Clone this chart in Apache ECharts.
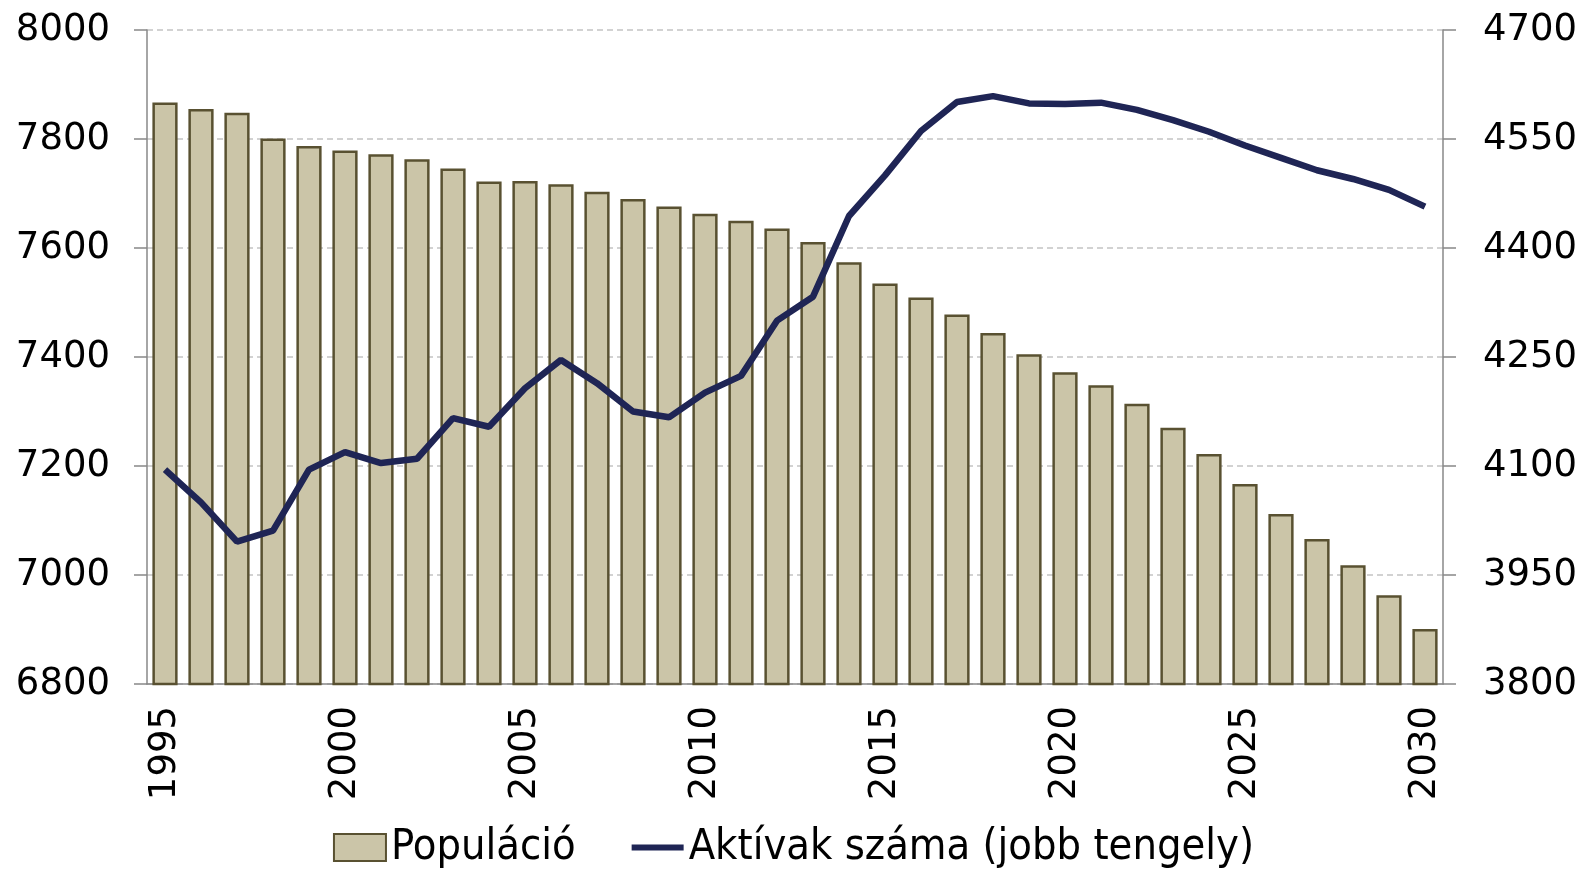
<!DOCTYPE HTML>
<html lang="hu">
<head>
<meta charset="utf-8">
<title>Populáció és aktívak száma</title>
<style>
html, body {
  margin: 0;
  background: #fff;
}
#chart {
  width: 1587px;
  height: 872px;
}
</style>
</head>
<body>
<div id="chart"></div>
<script src="https://cdn.jsdelivr.net/npm/echarts@6.0.0/dist/echarts.min.js"></script>
<script>
var years = [
  '1995', '1996', '1997', '1998', '1999', '2000', '2001', '2002', '2003', '2004',
  '2005', '2006', '2007', '2008', '2009', '2010', '2011', '2012', '2013', '2014',
  '2015', '2016', '2017', '2018', '2019', '2020', '2021', '2022', '2023', '2024',
  '2025', '2026', '2027', '2028', '2029', '2030'
];
// Populáció (bal tengely)
var population = [
  7867, 7855, 7848, 7801, 7787, 7779, 7772, 7763, 7746, 7722,
  7723, 7717, 7703, 7690, 7676, 7663, 7650, 7636, 7611, 7574,
  7535, 7509, 7478, 7444, 7405, 7372, 7348, 7314, 7270, 7222,
  7167, 7112, 7066, 7018, 6963, 6901
];
// Aktívak száma (jobb tengely)
var active = [
  4095, 4050, 3996, 4011, 4095, 4119, 4104, 4110, 4166, 4154,
  4207, 4246, 4214, 4175, 4167, 4201, 4224, 4300, 4333, 4444,
  4500, 4561, 4601, 4609, 4599, 4598, 4600, 4590, 4576, 4560,
  4541, 4524, 4507, 4495, 4480, 4457
];

var axisColor = '#888888';
var labelFont = {
  color: '#000',
  fontFamily: 'DejaVu Sans',
  fontSize: 37
};
function plain(v) {
  return String(v);
}

var chart = echarts.init(document.getElementById('chart'));
chart.setOption({
  animation: false,
  grid: {
    left: 147,
    right: 144,
    top: 30,
    bottom: 188
  },
  legend: {
    bottom: -2,
    left: 'center',
    itemWidth: 52,
    itemHeight: 27,
    itemGap: 56,
    textStyle: {
      color: '#000',
      fontFamily: 'DejaVu Sans Condensed',
      fontSize: 43
    },
    data: [
      { name: 'Populáció', icon: 'rect' },
      // thin bar drawn as the line's legend mark
      { name: 'Aktívak száma (jobb tengely)', icon: 'path://M0,0 L52,0 L52,6 L0,6 Z' }
    ]
  },
  xAxis: {
    type: 'category',
    data: years,
    axisLine: { lineStyle: { color: axisColor, width: 1.5 } },
    axisTick: {
      interval: 0,
      length: 13,
      lineStyle: { color: axisColor, width: 1.5 }
    },
    axisLabel: Object.assign({
      interval: 4,
      rotate: 90,
      margin: 22
    }, labelFont)
  },
  yAxis: [
    {
      type: 'value',
      min: 6800,
      max: 8000,
      interval: 200,
      axisLine: { show: true, lineStyle: { color: axisColor, width: 1.5 } },
      axisTick: { show: true, length: 13, lineStyle: { color: axisColor, width: 1.5 } },
      axisLabel: Object.assign({ margin: 37, formatter: plain }, labelFont),
      splitLine: {
        lineStyle: { color: '#c4c4c4', type: [6, 4], width: 1.5 }
      }
    },
    {
      type: 'value',
      min: 3800,
      max: 4700,
      interval: 150,
      axisLine: { show: true, lineStyle: { color: axisColor, width: 1.5 } },
      axisTick: { show: true, length: 13, lineStyle: { color: axisColor, width: 1.5 } },
      axisLabel: Object.assign({ margin: 40, formatter: plain }, labelFont),
      splitLine: { show: false }
    }
  ],
  series: [
    {
      name: 'Populáció',
      type: 'bar',
      data: population,
      barCategoryGap: '30%',
      itemStyle: {
        color: '#cbc5a8',
        borderColor: '#595131',
        borderWidth: 2.5
      }
    },
    {
      name: 'Aktívak száma (jobb tengely)',
      type: 'line',
      yAxisIndex: 1,
      data: active,
      symbol: 'none',
      lineStyle: {
        color: '#1f2555',
        width: 6.5
      },
      itemStyle: { color: '#1f2555' }
    }
  ]
});
</script>
</body>
</html>
